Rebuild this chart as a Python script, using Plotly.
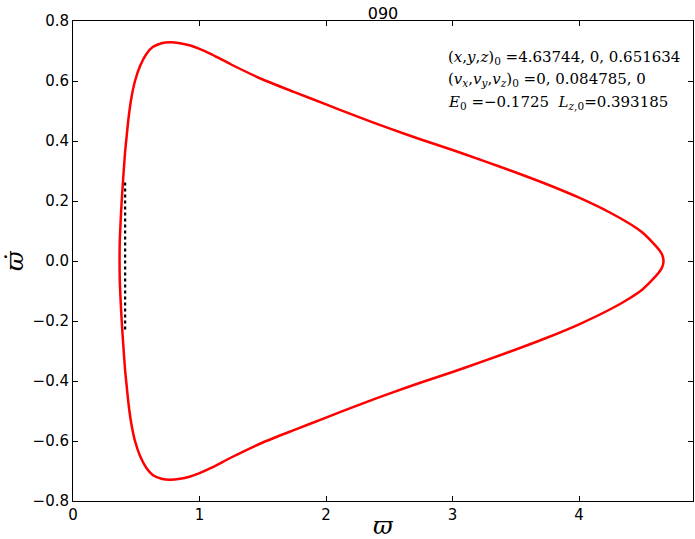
import plotly.graph_objects as go

# Zero-velocity boundary in the (varpi, varpi-dot) plane (upper branch then lower branch)
omega = [4.667, 4.657, 4.636, 4.600, 4.500, 4.400, 4.250, 4.000, 3.750, 3.500,
         3.250, 3.000, 2.750, 2.500, 2.250, 2.000, 1.750, 1.500, 1.250, 1.100,
         1.000, 0.920, 0.846, 0.767, 0.700, 0.630, 0.580, 0.530, 0.490, 0.460,
         0.440, 0.425, 0.411, 0.395, 0.385, 0.377, 0.370, 0.368,
         0.370, 0.377, 0.385, 0.395, 0.411, 0.425, 0.440, 0.460, 0.490, 0.530,
         0.580, 0.630, 0.700, 0.767, 0.846, 0.920, 1.000, 1.100, 1.250, 1.500,
         1.750, 2.000, 2.250, 2.500, 2.750, 3.000, 3.250, 3.500, 3.750, 4.000,
         4.250, 4.400, 4.500, 4.600, 4.636, 4.657, 4.667]
omega_dot = [0.0, 0.020, 0.035, 0.053, 0.095, 0.124, 0.160, 0.211, 0.255, 0.295,
             0.333, 0.370, 0.405, 0.442, 0.481, 0.522, 0.563, 0.605, 0.655, 0.688,
             0.707, 0.719, 0.726, 0.729, 0.726, 0.713, 0.690, 0.650, 0.600, 0.540,
             0.480, 0.420, 0.360, 0.265, 0.200, 0.137, 0.070, 0.0,
             -0.070, -0.137, -0.200, -0.265, -0.360, -0.420, -0.480, -0.540, -0.600, -0.650,
             -0.690, -0.713, -0.726, -0.729, -0.726, -0.719, -0.707, -0.688, -0.655, -0.605,
             -0.563, -0.522, -0.481, -0.442, -0.405, -0.370, -0.333, -0.295, -0.255, -0.211,
             -0.160, -0.124, -0.095, -0.053, -0.035, -0.020, 0.0]

# Surface-of-section points (orbit crossings)
sos_omega = [0.412, 0.412]
sos_omega_dot = [0.262, -0.238]

title_text = "090"
info_lines = [
    "(<i>x</i>,<i>y</i>,<i>z</i>)<sub>0</sub> =4.63744, 0, 0.651634",
    "(<i>v<sub>x</sub></i>,<i>v<sub>y</sub></i>,<i>v<sub>z</sub></i>)<sub>0</sub> =0, 0.084785, 0",
    "<i>E</i><sub>0</sub> =\u22120.1725  <i>L</i><sub><i>z</i>,0</sub>=0.393185",
]
x_ticks = [0, 1, 2, 3, 4]
y_ticks = [-0.8, -0.6, -0.4, -0.2, 0.0, 0.2, 0.4, 0.6, 0.8]

fig = go.Figure()
fig.add_trace(go.Scatter(
    x=omega, y=omega_dot, mode="lines",
    line=dict(color="#ff0000", width=2.5, shape="spline", smoothing=0.6),
    showlegend=False, hoverinfo="skip"))
fig.add_trace(go.Scatter(
    x=sos_omega, y=sos_omega_dot, mode="lines",
    line=dict(color="black", width=2.2, dash="dot"),
    showlegend=False, hoverinfo="skip"))

axis_common = dict(
    showgrid=False, zeroline=False, showline=True, linecolor="black", linewidth=1,
    mirror="allticks", ticks="inside", ticklen=5, tickcolor="black",
    tickfont=dict(family="DejaVu Sans", size=15, color="black"),
)
fig.update_xaxes(range=[0, 4.9], tickvals=x_ticks, tickformat="d", **axis_common)
fig.update_yaxes(range=[-0.8, 0.8], tickvals=y_ticks, tickformat=".1f", **axis_common)

serif = "DejaVu Serif"
for i, line in enumerate(info_lines):
    fig.add_annotation(x=2.95, y=0.68 - i * 0.075, xref="x", yref="y",
                       text=line, showarrow=False, xanchor="left", yanchor="middle",
                       font=dict(family=serif, size=15, color="black"))

fig.add_annotation(x=0.5, y=0, xref="paper", yref="paper", text="<i>\u03d6</i>",
                   showarrow=False, yanchor="top", yshift=-9,
                   font=dict(family=serif, size=24, color="black"))
fig.add_annotation(x=0, y=0.5, xref="paper", yref="paper", text="<i>\u03d6\u0307</i>",
                   showarrow=False, xanchor="right", xshift=-42, textangle=-90,
                   font=dict(family=serif, size=24, color="black"))

fig.update_layout(
    width=695, height=539,
    margin=dict(l=73, r=2, t=21, b=38),
    paper_bgcolor="white", plot_bgcolor="white",
    title=dict(text=title_text, xref="paper", x=0.5, xanchor="center",
               yref="container", y=0.985, yanchor="top",
               font=dict(family="DejaVu Sans", size=16, color="black")),
)

fig.write_html("out.html", config={"displayModeBar": False},
               post_script="document.body.style.margin='0';")
